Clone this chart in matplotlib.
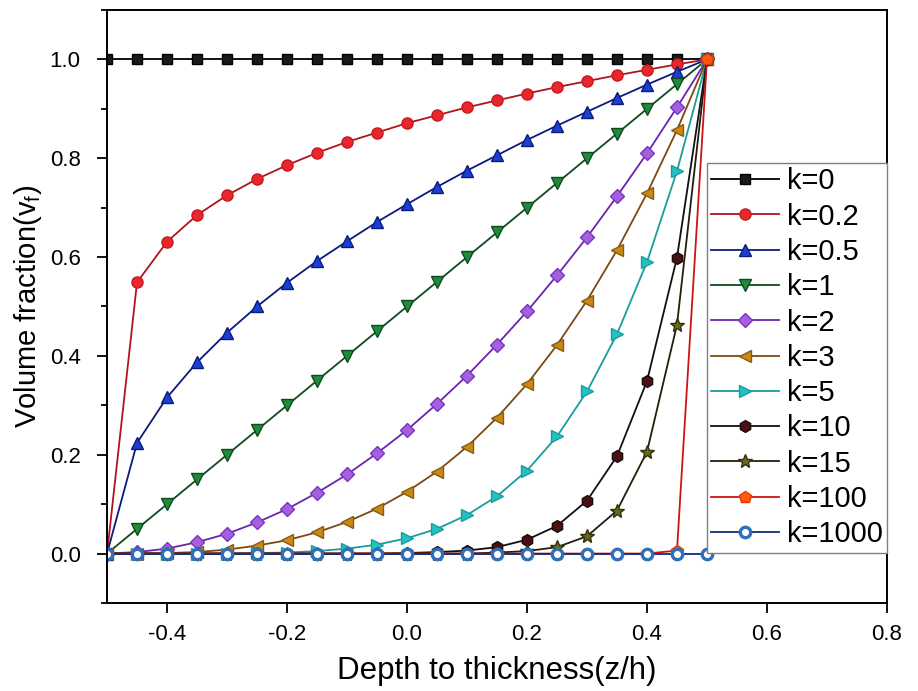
import matplotlib
matplotlib.use("Agg")
import matplotlib.pyplot as plt
from matplotlib.ticker import MultipleLocator, FormatStrFormatter

plt.rcParams['font.family'] = ['Liberation Sans', 'DejaVu Sans']
plt.rcParams['axes.unicode_minus'] = False

# depth to thickness ratio z/h
z_h = [-0.5, -0.45, -0.4, -0.35, -0.3, -0.25, -0.2, -0.15, -0.1, -0.05, 0.0,
       0.05, 0.1, 0.15, 0.2, 0.25, 0.3, 0.35, 0.4, 0.45, 0.5]

# volume fraction
vf_k0 = [1.0] * 21
vf_k02 = [0.0, 0.549, 0.631, 0.685, 0.725, 0.758, 0.786, 0.811, 0.833, 0.852, 0.871,
          0.887, 0.903, 0.917, 0.931, 0.944, 0.956, 0.968, 0.979, 0.990, 1.0]
vf_k05 = [0.0, 0.224, 0.316, 0.387, 0.447, 0.5, 0.548, 0.592, 0.632, 0.671, 0.707,
          0.742, 0.775, 0.806, 0.837, 0.866, 0.894, 0.922, 0.949, 0.975, 1.0]
vf_k1 = [0.0, 0.05, 0.1, 0.15, 0.2, 0.25, 0.3, 0.35, 0.4, 0.45, 0.5,
         0.55, 0.6, 0.65, 0.7, 0.75, 0.8, 0.85, 0.9, 0.95, 1.0]
vf_k2 = [0.0, 0.003, 0.01, 0.023, 0.04, 0.063, 0.09, 0.123, 0.16, 0.203, 0.25,
         0.303, 0.36, 0.423, 0.49, 0.563, 0.64, 0.723, 0.81, 0.903, 1.0]
vf_k3 = [0.0, 0.0, 0.001, 0.003, 0.008, 0.016, 0.027, 0.043, 0.064, 0.091, 0.125,
         0.166, 0.216, 0.275, 0.343, 0.422, 0.512, 0.614, 0.729, 0.857, 1.0]
vf_k5 = [0.0, 0.0, 0.0, 0.0, 0.0, 0.001, 0.002, 0.005, 0.01, 0.018, 0.031,
         0.05, 0.078, 0.116, 0.168, 0.237, 0.328, 0.444, 0.59, 0.774, 1.0]
vf_k10 = [0.0, 0.0, 0.0, 0.0, 0.0, 0.0, 0.0, 0.0, 0.0, 0.0, 0.001,
          0.003, 0.006, 0.013, 0.028, 0.056, 0.107, 0.197, 0.349, 0.599, 1.0]
vf_k15 = [0.0, 0.0, 0.0, 0.0, 0.0, 0.0, 0.0, 0.0, 0.0, 0.0, 0.0,
          0.0, 0.0, 0.002, 0.005, 0.013, 0.035, 0.087, 0.206, 0.463, 1.0]
vf_k100 = [0.0] * 19 + [0.006, 1.0]
vf_k1000 = [0.0] * 21

labels = ['k=0', 'k=0.2', 'k=0.5', 'k=1', 'k=2', 'k=3', 'k=5', 'k=10', 'k=15', 'k=100', 'k=1000']
series = [vf_k0, vf_k02, vf_k05, vf_k1, vf_k2, vf_k3, vf_k5, vf_k10, vf_k15, vf_k100, vf_k1000]

# (line colour, marker, marker face, marker edge, marker size)
styles = [
    ('#000000', 's', '#1a1a1a', '#000000', 7),
    ('#b0141a', 'o', '#e8262c', '#c41a20', 8),
    ('#0c1a80', '^', '#1a40d0', '#0c1a80', 8.5),
    ('#0e4a1e', 'v', '#1f8c3c', '#0e4a1e', 8.5),
    ('#6a24b0', 'D', '#a560e0', '#7a34c0', 7),
    ('#7a4a12', '<', '#c98a14', '#8a5a10', 8.5),
    ('#1a9c9c', '>', '#22c2c2', '#1a9c9c', 8.5),
    ('#101010', 'h', '#4a1014', '#1a0a0a', 8.5),
    ('#20200a', '*', '#6a6a16', '#30300c', 10),
    ('#cc1414', 'p', '#ff5a10', '#e83a08', 9),
    ('#0d2d7a', 'o', '#ffffff', '#2f70b8', 7.5),
]

fig = plt.figure(figsize=(9.18, 6.91), dpi=100)
ax = fig.add_axes([0.1166, 0.1274, 0.8496, 0.8581])

for vals, lab, (lc, mk, mf, me, ms) in zip(series, labels, styles):
    mew = 2.4 if lab == 'k=1000' else 1.0
    ax.plot(z_h, vals, color=lc, linewidth=1.3, marker=mk, markersize=ms,
            markerfacecolor=mf, markeredgecolor=me, markeredgewidth=mew, label=lab)

ax.set_xlim(-0.5, 0.8)
ax.set_ylim(-0.1, 1.1)
ax.xaxis.set_major_locator(MultipleLocator(0.2))
ax.yaxis.set_major_locator(MultipleLocator(0.2))
ax.yaxis.set_minor_locator(MultipleLocator(0.1))
ax.xaxis.set_major_formatter(FormatStrFormatter('%.1f'))
ax.yaxis.set_major_formatter(FormatStrFormatter('%.1f'))
ax.set_yticks([0.0, 0.2, 0.4, 0.6, 0.8, 1.0])

ax.tick_params(which='major', direction='out', length=7, width=1.3, labelsize=16, pad=8)
ax.tick_params(which='minor', direction='out', length=4.5, width=1.3)
ax.tick_params(axis='y', pad=12)
for sp in ax.spines.values():
    sp.set_linewidth(1.4)

ax.set_xlabel('Depth to thickness(z/h)', fontsize=22.5, labelpad=8)
ax.set_ylabel('Volume fraction(v$_\\mathregular{f}$)', fontsize=21, labelpad=4)

leg = ax.legend(loc='upper right', bbox_to_anchor=(1.0, 0.742), borderaxespad=0,
                fontsize=21, frameon=True, fancybox=False, framealpha=1,
                edgecolor='#808080', handlelength=2.33, handletextpad=0.27,
                labelspacing=0.25, borderpad=0.15)
leg.get_frame().set_linewidth(1.0)

fig.savefig('out.png', dpi=100)
